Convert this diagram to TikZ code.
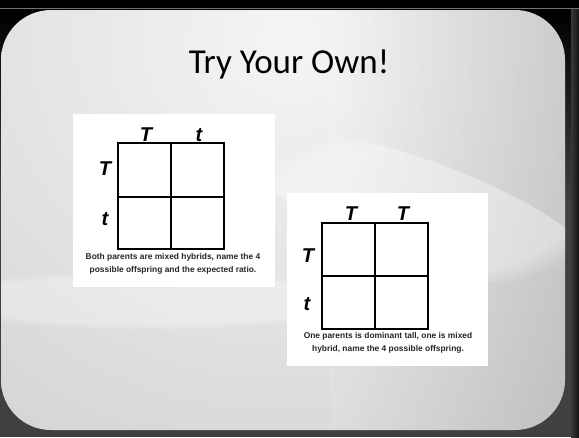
\documentclass[tikz,border=0pt]{standalone}
\usepackage{fontspec}
\setmainfont{Carlito}
\newfontfamily\labfont{Liberation Sans}
\newfontfamily\capfont{Liberation Sans}
\usetikzlibrary{fadings}
\tikzset{
  gridline/.style={line width=1.6pt, black},
  card/.style={fill=white},
  lab/.style={font=\labfont\bfseries\itshape\fontsize{20}{20}\selectfont, anchor=base, inner sep=0pt},
  captxt/.style={font=\capfont\bfseries\fontsize{8.4}{13}\selectfont, align=center, inner sep=0pt, text=black!85},
  glow/.style={fill=white, path fading=circle with fuzzy edge 20 percent},
}
\begin{document}
\begin{tikzpicture}[x=1pt,y=-1pt]
\useasboundingbox (0,0) rectangle (579,437);
% outside frame
\fill[black] (0,0) rectangle (579,437);
\shade[top color=black, bottom color=black!75] (0,9) rectangle (579,200);
\fill[black!75] (0,199.5) rectangle (579,437);
\fill[black!55] (0,7.5) rectangle (579,9);
\shade[left color=black!78, right color=black!92] (571,9) rectangle (579,437);
% slide
\begin{scope}
\clip[rounded corners=50pt] (1,10) rectangle (565,430);
\shade[inner color=black!4, outer color=black!26] (290,40) ellipse (900 and 820);
\shade[left color=white, right color=black, opacity=0.10] (330,10) rectangle (565,430);
\fill[glow, opacity=0.35, rotate around={-20:(420,210)}] (420,210) ellipse (190 and 50);
\fill[glow, opacity=0.30] (150,300) ellipse (230 and 30);
\end{scope}
% title
\node[font=\fontsize{35}{35}\selectfont, anchor=base, inner sep=0pt] (title) at (289,73) {Try Your Own!};
% card 1
\fill[card] (73,114) rectangle (275,287);
\draw[gridline] (118,143) rectangle (224,249);
\draw[gridline] (171,143) -- (171,249);
\draw[gridline] (118,197) -- (224,197);
\node[lab] (a1) at (146,141) {T};
\node[lab] (a2) at (199,141) {t};
\node[lab] (a3) at (105,175) {T};
\node[lab] (a4) at (105,225) {t};
\node[captxt] (c1) at (173,264) {Both parents are mixed hybrids, name the 4\\possible offspring and the expected ratio.};
% card 2
\fill[card] (287,193) rectangle (488,366);
\draw[gridline] (322,223) rectangle (428,329);
\draw[gridline] (375,223) -- (375,329);
\draw[gridline] (322,276) -- (428,276);
\node[lab] (b1) at (351,220) {T};
\node[lab] (b2) at (403,220) {T};
\node[lab] (b3) at (308,262) {T};
\node[lab] (b4) at (307,310) {t};
\node[captxt] (c2) at (388,343) {One parents is dominant tall, one is mixed\\hybrid, name the 4 possible offspring.};
\end{tikzpicture}
\end{document}
